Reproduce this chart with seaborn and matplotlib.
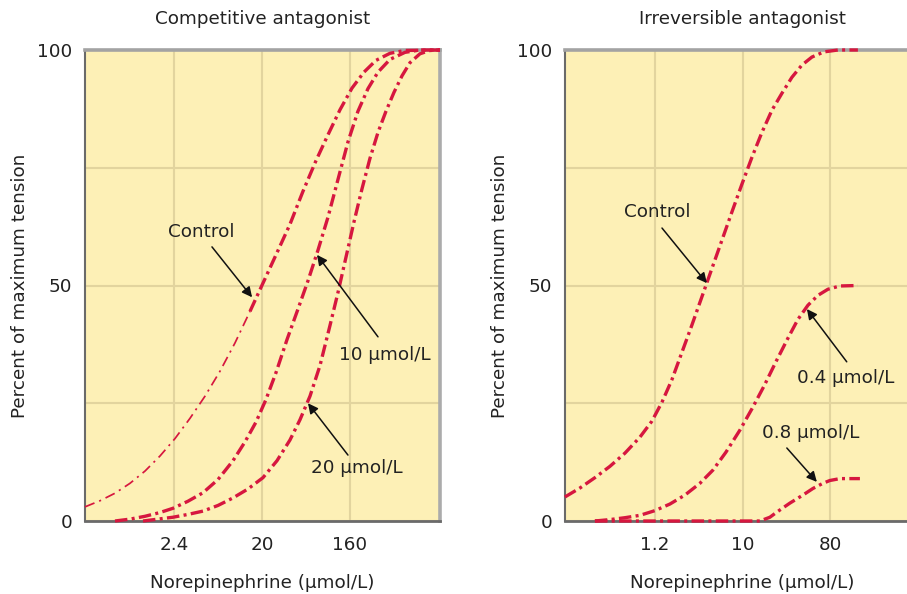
import matplotlib
matplotlib.use("Agg")
import matplotlib.pyplot as plt
import seaborn as sns

# ---------------- data ----------------
# Left panel: competitive antagonist (x = norepinephrine, µmol/L; y = % of max tension)
comp_control_x = [0.2929, 0.4176, 0.5952, 0.8483, 1.2094, 1.7239, 2.4574, 3.5029, 4.993, 7.118,
                  10.146, 14.46, 19.66, 26.74, 37.22, 50.61, 68.82, 91.37, 121.3, 161.1,
                  213.9, 284.2, 395.6, 563.8, 1289]
comp_control_y = [3.0, 4.3, 5.9, 8.0, 10.6, 13.8, 17.5, 21.8, 26.5, 31.8,
                  37.8, 44.5, 50.5, 56.5, 63.0, 70.0, 76.5, 82.0, 87.3, 91.9,
                  95.3, 97.8, 99.3, 99.9, 100.0]
comp_thin_n = 12  # lower part of the control curve is drawn thinner

comp_10_x = [0.5952, 0.8483, 1.2094, 1.7239, 2.3439, 3.3412, 4.7629, 6.789, 9.677, 12.85,
             16.67, 21.11, 26.74, 34.67, 44.97, 56.96, 72.15, 91.37, 115.7, 146.6,
             185.6, 235.2, 297.9, 395.6, 563.8, 803.7, 1289]
comp_10_y = [0.0, 0.4, 1.0, 1.8, 2.7, 4.2, 6.0, 8.8, 12.8, 16.8,
             21.0, 25.8, 31.5, 38.5, 45.0, 51.0, 57.5, 64.5, 72.5, 80.5,
             87.0, 91.8, 95.3, 98.0, 99.5, 100.0, 100.0]

comp_20_x = [1.1536, 1.6444, 2.3439, 3.3412, 4.7629, 6.789, 9.677, 13.79, 19.66, 27.38,
             37.22, 47.15, 59.72, 75.64, 95.79, 115.7, 139.8, 168.9, 204.0, 246.5,
             297.9, 359.9, 434.7, 525.2, 634.5, 803.7, 1018, 1289]
comp_20_y = [0.0, 0.4, 0.8, 1.4, 2.1, 3.3, 4.9, 6.8, 9.2, 12.8,
             17.2, 21.5, 26.5, 33.0, 41.5, 48.5, 56.0, 63.5, 70.5, 77.0,
             82.5, 87.0, 91.0, 94.5, 97.3, 99.2, 99.9, 100.0]

# Right panel: irreversible antagonist
irr_control_x = [0.1417, 0.2023, 0.2888, 0.4123, 0.5887, 0.8406, 1.1175, 1.4169, 1.7965, 2.2779,
                 2.8881, 3.6621, 4.6431, 5.8873, 7.4645, 9.4642, 12.0, 15.216, 19.292, 24.461,
                 31.015, 39.326, 49.86, 66.29, 92.433, 148.57]
irr_control_y = [5.1, 7.0, 9.2, 11.6, 14.4, 17.8, 21.2, 25.2, 30.0, 35.8,
                 41.6, 47.6, 53.6, 59.6, 65.6, 71.5, 77.2, 82.5, 87.2, 90.8,
                 94.2, 96.8, 98.5, 99.6, 100.0, 100.0]

irr_04_x = [0.2888, 0.4123, 0.5887, 0.8406, 1.2, 1.7132, 2.446, 3.4923, 4.7547, 6.4737,
            9.0254, 12.0, 15.955, 21.214, 28.206, 35.764, 45.345, 57.492, 72.892, 96.927, 148.57]
irr_04_y = [0.0, 0.3, 0.7, 1.2, 2.2, 3.6, 5.5, 8.0, 10.8, 14.6,
            19.3, 23.8, 28.6, 33.8, 38.8, 42.8, 45.8, 47.9, 49.2, 49.9, 50.0]

irr_08_x = [0.2888, 14.509, 18.398, 21.723, 29.577, 40.27, 51.057, 64.735, 76.44, 96.927, 155.81]
irr_08_y = [0.0, 0.0, 0.8, 1.9, 3.8, 5.5, 6.9, 8.0, 8.6, 9.0, 9.0]

# ticks
comp_ticks = [0.6, 1.2, 2.4, 4.8, 9.6, 19.2, 38.4, 76.8, 153.6, 307.2, 614.4]
comp_major = [2.4, 19.2, 153.6]
comp_labels = ["2.4", "20", "160"]
irr_ticks = [0.3, 0.6, 1.2, 2.4, 4.8, 9.6, 19.2, 38.4, 76.8, 153.6, 307.2]
irr_major = [1.2, 9.6, 76.8]
irr_labels = ["1.2", "10", "80"]
y_major = [0, 50, 100]
y_minor = [25, 75]

titles = ["Competitive antagonist", "Irreversible antagonist"]
xlabel = "Norepinephrine (µmol/L)"
ylabel = "Percent of maximum tension"

# ---------------- style ----------------
sns.set_style("white")
plt.rcParams["font.family"] = ["DejaVu Sans"]
FS = 13.2
RED = "#D6173F"
BG = "#FDF0B6"
GRID = "#E2D49E"
TXT = "#222222"

thick_ls = (0, (3.75, 1.3, 0.9, 1.3))
thin_ls = (0, (5.9, 2.9, 1.2, 2.9))
LW_THICK = 2.4
LW_THIN = 1.25

fig = plt.figure(figsize=(9.07, 5.94), dpi=100)
W, H = 907, 594
ax_l = fig.add_axes([85 / W, (H - 521) / H, 355 / W, 471 / H])
ax_r = fig.add_axes([565 / W, (H - 521) / H, 355 / W, 471 / H])


def style_axes(ax, xlim, ticks, major, labels, title, right_visible):
    ax.set_facecolor(BG)
    ax.set_xscale("log")
    ax.set_xlim(*xlim)
    ax.set_ylim(0, 100)
    minor = [t for t in ticks if t not in major]
    ax.set_xticks(major)
    ax.set_xticklabels(labels)
    ax.set_xticks(minor, minor=True)
    ax.set_xticklabels([], minor=True)
    ax.set_yticks(y_major)
    ax.set_yticklabels([str(v) for v in y_major])
    ax.set_yticks(y_minor, minor=True)
    ax.tick_params(axis="x", which="major", length=0, pad=11, labelsize=FS, labelcolor=TXT)
    ax.tick_params(axis="x", which="minor", direction="in", length=7, width=1.3, color="#333333")
    ax.tick_params(axis="y", which="both", length=0, pad=9, labelsize=FS, labelcolor=TXT)
    ax.grid(True, axis="x", which="major", color=GRID, lw=1.5)
    ax.grid(True, axis="y", which="both", color=GRID, lw=1.5)
    ax.set_axisbelow(True)
    ax.spines["top"].set_color("#A3A3A3")
    ax.spines["top"].set_linewidth(2.6)
    ax.spines["right"].set_color("#ABABAB")
    ax.spines["right"].set_linewidth(2.6)
    ax.spines["right"].set_visible(right_visible)
    ax.spines["left"].set_color("#6A6A6A")
    ax.spines["left"].set_linewidth(1.5)
    ax.spines["bottom"].set_color("#6A6A6A")
    ax.spines["bottom"].set_linewidth(2.0)
    ax.set_title(title, fontsize=FS, color=TXT, pad=19)
    ax.set_xlabel(xlabel, fontsize=FS, color=TXT, labelpad=14)
    ax.set_ylabel(ylabel, fontsize=FS, color=TXT, labelpad=6)


def curve(ax, x, y, lw, ls):
    sns.lineplot(x=x, y=y, ax=ax, color=RED, lw=lw, linestyle=ls,
                 sort=False, estimator=None, clip_on=False, zorder=3)


style_axes(ax_l, (0.293, 1290), comp_ticks, comp_major, comp_labels, titles[0], True)
style_axes(ax_r, (0.142, 649), irr_ticks, irr_major, irr_labels, titles[1], False)

# left curves
curve(ax_l, comp_control_x[:comp_thin_n], comp_control_y[:comp_thin_n], LW_THIN, thin_ls)
curve(ax_l, comp_control_x[comp_thin_n - 1:], comp_control_y[comp_thin_n - 1:], LW_THICK, thick_ls)
curve(ax_l, comp_10_x, comp_10_y, LW_THICK, thick_ls)
curve(ax_l, comp_20_x, comp_20_y, LW_THICK, thick_ls)

# right curves
curve(ax_r, irr_control_x, irr_control_y, LW_THICK, thick_ls)
curve(ax_r, irr_04_x, irr_04_y, LW_THICK, thick_ls)
curve(ax_r, irr_08_x, irr_08_y, LW_THICK, thick_ls)

arrow = dict(arrowstyle="-|>", color="#111111", lw=1.1, mutation_scale=15,
             shrinkA=0, shrinkB=0)


def label(ax, text, txy, tail, tip):
    ax.text(txy[0], txy[1], text, fontsize=FS, color=TXT, ha="center", va="center", zorder=5)
    ax.annotate("", xy=tip, xytext=tail, arrowprops=arrow, zorder=5)


label(ax_l, "Control", (4.54, 61.4), (5.89, 58.2), (15.2, 47.5))
label(ax_l, "10 µmol/L", (350, 35.2), (298, 39.1), (70.5, 56.5))
label(ax_l, "20 µmol/L", (181, 11.25), (146.5, 14.0), (57.0, 25.0))

label(ax_r, "Control", (1.26, 65.6), (1.42, 62.2), (4.12, 50.5))
label(ax_r, "0.4 µmol/L", (111.7, 30.4), (114, 33.8), (44.3, 45.0))
label(ax_r, "0.8 µmol/L", (48.6, 18.7), (27.5, 15.5), (56.1, 8.3))

fig.savefig("out.png", dpi=100)
